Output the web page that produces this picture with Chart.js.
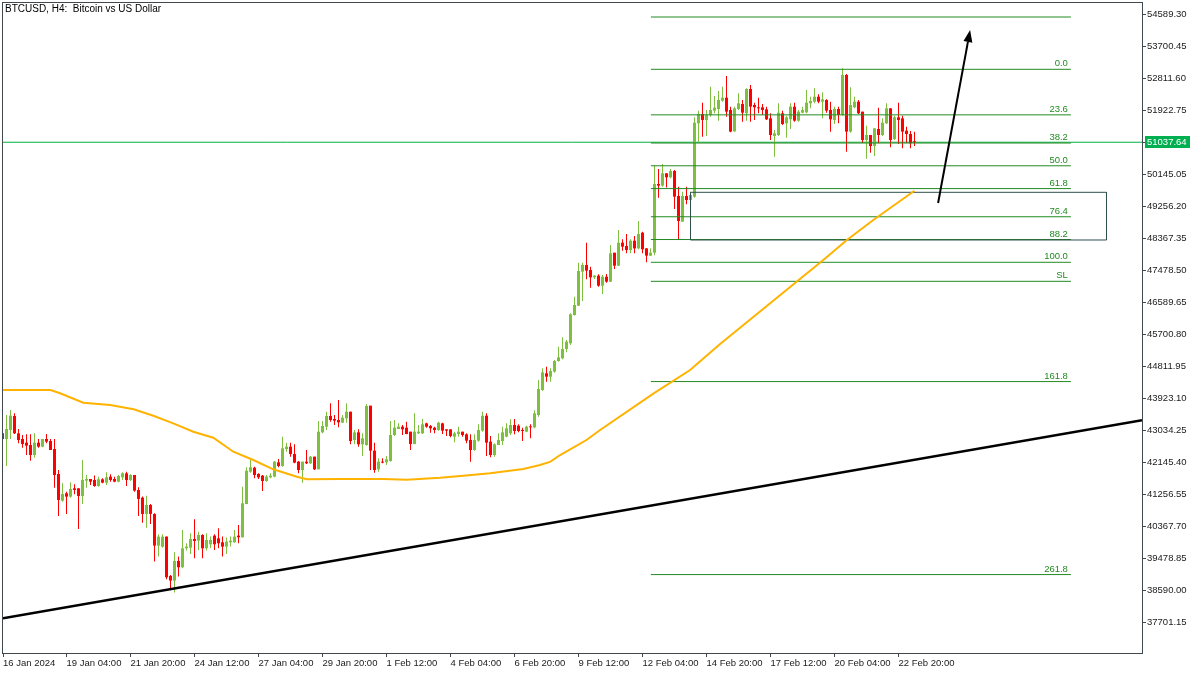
<!DOCTYPE html>
<html>
<head>
<meta charset="utf-8">
<title>BTCUSD, H4</title>
<script src="https://cdn.jsdelivr.net/npm/chart.js@4.4.1/dist/chart.umd.min.js"></script>
<style>
  html, body { margin: 0; padding: 0; background: #fff; }
  #wrap { width: 1200px; height: 675px; }
</style>
</head>
<body>
<div id="wrap"><canvas id="chart" width="1200" height="675"></canvas></div>
<script>
// ---- H4 candles, 16 Jan 2024 12:00 onwards (one value per bar) ----
const opens = [
  42957, 42800, 43049, 43438, 42957, 42800, 42698, 42633, 42356, 42698,
  42587, 42800, 42744, 42522, 41829, 41089, 41292, 41200, 41431, 41431,
  41218, 41644, 41690, 41662, 41495, 41681, 41588, 41755, 41690, 41616,
  41736, 41847, 41662, 41801, 41385, 41172, 40719, 40968, 40719, 39840,
  39812, 40090, 38998, 38869, 39415, 39239, 39766, 39784, 40025, 39979,
  40136, 39766, 39877, 40117, 40043, 39932, 39812, 39932, 39932, 40117,
  40071, 40996, 41893, 42004, 41829, 41783, 41634, 41736, 41755, 42152,
  42050, 42522, 42587, 42384, 42171, 41939, 42171, 42124, 42310, 41958,
  42985, 43142, 43438, 43355, 43327, 43253, 43373, 43558, 42772, 42985,
  42652, 42633, 43725, 42476, 41958, 42171, 42152, 42189, 42911, 43077,
  43142, 43114, 43003, 42661, 42957, 42957, 43234, 43161, 43114, 43049,
  43234, 43068, 43068, 42864, 42938, 43003, 42929, 42772, 42494, 42754,
  43031, 43447, 42726, 42356, 42633, 42744, 42864, 42957, 43188, 43170,
  43049, 43003, 43142, 43123, 43466, 44160, 44623, 44530, 44669, 44965,
  45039, 45298, 45455, 46242, 46501, 47445, 47630, 47491, 47287, 47334,
  47056, 47306, 47167, 47972, 47611, 48250, 48157, 48046, 48305, 48092,
  48527, 48092, 47889, 47972, 49879, 49833, 50175, 50064, 50239, 49546,
  48833, 49546, 49435, 49527, 51563, 51822, 51656, 51794, 51915, 51961,
  52192, 52275, 51933, 51341, 51961, 52100, 51841, 52516, 52072, 52007,
  52007, 51952, 51702, 51211, 51239, 51841, 51563, 51674, 52026, 51637,
  51859, 51868, 52118, 52164, 52303, 52164, 52211, 51933, 51656, 51961,
  51794, 52905, 51332, 52007, 52164, 51887, 51100, 51239, 50934, 51406,
  51239, 51563, 51979, 51128, 51730, 51702, 51359, 51267, 51054
];
const highs = [
  42975, 43466, 43605, 43512, 43077, 42911, 42929, 42929, 42957, 42800,
  42800, 42938, 42800, 42800, 41939, 41569, 41338, 41597, 41542, 41431,
  42217, 41801, 41690, 41783, 41755, 41708, 41875, 41820, 41755, 41801,
  41875, 41893, 41820, 41801, 41458, 41200, 41227, 40996, 40737, 40154,
  40154, 40090, 39026, 39655, 39535, 40275, 39905, 40182, 40571, 40228,
  40154, 40182, 40090, 40154, 40321, 40090, 40062, 40090, 40275, 40413,
  41477, 42014, 42217, 42032, 41847, 41801, 41801, 41847, 42189, 42245,
  42864, 42698, 42698, 42652, 42189, 42171, 42494, 42328, 42310, 43299,
  43299, 43558, 43790, 43466, 43882, 43466, 43790, 43558, 43049, 43068,
  42957, 43771, 43725, 42698, 42263, 42263, 42328, 43299, 43327, 43234,
  43188, 43281, 43003, 43512, 43188, 43355, 43253, 43188, 43142, 43281,
  43253, 43068, 43068, 43003, 43142, 43003, 42957, 42929, 42929, 43207,
  43558, 43512, 42883, 42680, 42957, 43142, 43234, 43345, 43355, 43207,
  43114, 43170, 43207, 43600, 44438, 44761, 44808, 44761, 44993, 45363,
  45622, 45548, 46288, 46751, 47695, 47695, 48250, 47584, 47352, 47371,
  47352, 47380, 48185, 47972, 48601, 48342, 48490, 48342, 48435, 48851,
  48555, 48092, 48092, 50406, 50295, 50434, 50175, 50295, 50267, 49805,
  49666, 49805, 49666, 51730, 51915, 52137, 51933, 52581, 52321, 52460,
  52581, 52877, 52026, 52026, 52396, 52211, 52534, 52627, 52137, 52275,
  52100, 52026, 51841, 51378, 52118, 51915, 51776, 52118, 52137, 51933,
  52026, 52488, 52303, 52534, 52368, 52423, 52229, 52164, 52026, 52026,
  53090, 52933, 52562, 52303, 52211, 51887, 51498, 51239, 51424, 51998,
  51702, 52118, 51979, 51776, 52137, 51776, 51470, 51350, 51332
];
const lows = [
  42790, 42050, 42800, 42938, 42680, 42559, 42356, 42198, 42282, 42559,
  42568, 42680, 42494, 41449, 40663, 41061, 40719, 41172, 41264, 40302,
  40996, 41449, 41523, 41477, 41477, 41569, 41523, 41616, 41597, 41597,
  41662, 41495, 41634, 41338, 40663, 40478, 40339, 40441, 39396, 39535,
  39784, 38906, 38637, 38536, 38980, 39211, 39701, 39609, 39488, 39720,
  39488, 39701, 39766, 39720, 39766, 39535, 39609, 39812, 39923, 39905,
  40062, 40987, 41866, 41708, 41690, 41357, 41616, 41708, 41736, 42014,
  42032, 42448, 42310, 42124, 41847, 41588, 42106, 42106, 41939, 41958,
  42957, 43049, 43281, 43188, 43123, 43253, 43253, 42652, 42652, 42587,
  42328, 42615, 41939, 41866, 41893, 42124, 42078, 42171, 42883, 43077,
  42911, 42929, 42494, 42652, 42938, 42938, 43114, 42976, 42957, 43031,
  42938, 42883, 42846, 42707, 42864, 42864, 42680, 42171, 42476, 42726,
  43003, 42328, 42291, 42310, 42633, 42633, 42846, 42911, 42929, 42985,
  42744, 42985, 42818, 43096, 43420, 44132, 44391, 44391, 44641, 44946,
  45011, 45206, 45409, 46230, 46492, 46631, 47232, 47001, 47241, 47028,
  46825, 47139, 47158, 47519, 47602, 48028, 47954, 47954, 47954, 48065,
  47954, 47705, 47880, 47900, 49499, 49805, 49778, 50036, 49185, 48324,
  48833, 49314, 49407, 49499, 51054, 51193, 51211, 51748, 51841, 51637,
  52164, 51748, 51313, 51332, 51933, 51609, 51637, 51609, 51656, 51841,
  51794, 51656, 51100, 50638, 51211, 51517, 51165, 51406, 51609, 51609,
  51841, 51841, 51979, 52118, 52118, 51702, 51859, 51332, 51545, 51563,
  51776, 50776, 51304, 51979, 51822, 51026, 50582, 50749, 50656, 51008,
  51211, 51545, 50897, 51100, 50989, 50869, 51026, 50869, 50934
];
const closes = [
  42800, 43077, 43447, 42957, 42772, 42661, 42615, 42356, 42698, 42587,
  42800, 42726, 42494, 41801, 41107, 41274, 41200, 41412, 41385, 41218,
  41662, 41690, 41616, 41495, 41681, 41588, 41736, 41662, 41616, 41773,
  41847, 41662, 41801, 41366, 41135, 40719, 40968, 40719, 39840, 40090,
  40090, 38961, 38869, 39415, 39239, 39766, 39812, 40025, 39969, 40136,
  39766, 39997, 39997, 39877, 39905, 39812, 39951, 39979, 40090, 40071,
  41015, 41921, 42014, 41801, 41736, 41634, 41755, 41783, 42171, 42050,
  42541, 42587, 42384, 42143, 41939, 42171, 42124, 42310, 41958, 43003,
  43161, 43438, 43327, 43308, 43262, 43392, 43558, 42744, 42985, 42652,
  42818, 43716, 42476, 41939, 42171, 42143, 42235, 42911, 43114, 43142,
  43068, 42938, 42661, 43003, 43003, 43207, 43142, 43096, 43049, 43253,
  43031, 43031, 42883, 42957, 43003, 42911, 42754, 42494, 42772, 43049,
  43447, 42698, 42356, 42652, 42772, 42985, 43096, 43188, 43022, 43022,
  43022, 43142, 43123, 43512, 44188, 44650, 44530, 44687, 44965, 45067,
  45298, 45502, 46260, 46520, 47463, 47630, 47473, 47287, 47334, 47056,
  47306, 47167, 47954, 47611, 48250, 48139, 48046, 48305, 48092, 48490,
  48065, 47889, 47972, 49879, 49833, 50175, 50064, 50239, 49527, 48852,
  49546, 49435, 49573, 51581, 51822, 51656, 51794, 51933, 51998, 52211,
  52275, 51887, 51332, 51979, 52118, 51859, 52516, 52026, 52007, 51979,
  51933, 51674, 51239, 51285, 51859, 51545, 51730, 52026, 51637, 51887,
  51933, 52137, 52183, 52303, 52164, 52229, 51915, 51674, 51961, 51794,
  52905, 51332, 52072, 52164, 51841, 51100, 51239, 50934, 51424, 51239,
  51581, 51979, 51100, 51730, 51656, 51332, 51267, 51008, 51037.64
];

// ---- time axis: a label every 16 bars ----
const timeTickBars = [0, 16, 32, 48, 64, 80, 96, 112, 128, 144, 160, 176, 192, 208, 224];
const timeTickLabels = ["16 Jan 2024", "19 Jan 04:00", "21 Jan 20:00", "24 Jan 12:00", "27 Jan 04:00",
  "29 Jan 20:00", "1 Feb 12:00", "4 Feb 04:00", "6 Feb 20:00", "9 Feb 12:00",
  "12 Feb 04:00", "14 Feb 20:00", "17 Feb 12:00", "20 Feb 04:00", "22 Feb 20:00"];

// ---- price axis ticks ----
const priceTicks = [54589.30, 53700.45, 52811.60, 51922.75, 51033.90, 50145.05, 49256.20, 48367.35,
  47478.50, 46589.65, 45700.80, 44811.95, 43923.10, 43034.25, 42145.40, 41256.55,
  40367.70, 39478.85, 38590.00, 37701.15];

// ---- orange moving average ----
const maBars = [0, 12, 14.4, 20.2, 26.9, 32.8, 37.7, 42.7, 47.7, 52.7, 57.7, 62.7, 67.7, 73.6, 76.1,
  84.4, 95.2, 101, 109.4, 115.2, 121.9, 130.2, 134.4, 137, 139.4, 146, 149.4, 162.8, 171.9,
  179.4, 205.2, 211.1, 217.7, 228];
const maValues = [44160, 44160, 44068, 43807, 43744, 43624, 43446, 43235, 43002, 42836, 42447, 42217,
  41958, 41753, 41681, 41689, 41689, 41670, 41725, 41781, 41847, 41967, 42078, 42170, 42355,
  42772, 43049, 44068, 44715, 45436, 47769, 48324, 48879, 49692];

// ---- fibonacci levels ----
const fibNames = ["", "0.0", "23.6", "38.2", "50.0", "61.8", "76.4", "88.2", "100.0", "SL", "161.8", "261.8"];
const fibValues = [54514, 53062.5, 51798, 51016, 50384, 49751, 48969, 48337, 47705, 47177, 44394, 39036];
const fibBars = [162.1, 267.1];

// ---- trend line, zone box, arrow ----
const trendBars = [0.125, 284.875];
const trendValues = [37822, 43319];
const zoneBars = [172, 276];
const zoneValues = [49648, 48324];
const arrowBars = [233.9, 241.9];
const arrowValues = [49351, 54153];

const X_MIN = 0.125, X_MAX = 284.875;
const Y_MIN = 36859, Y_MAX = 54903;

const UP = '#7fbf3f', DOWN = '#ff0000';
const FIB = '#228b22';
const FRAME = '#404850';
const FONT = '"Liberation Sans", Arial, sans-serif';

const bars = opens.map((o, i) => i);
const candleColors = opens.map((o, i) => closes[i] >= o ? UP : DOWN);
const lastPrice = closes[closes.length - 1];

Chart.defaults.font.family = FONT;

const fibSets = fibValues.map((v, k) => ({
  type: 'line',
  label: 'fib ' + fibNames[k],
  data: fibBars.map(b => ({ x: b, y: v })),
  borderColor: FIB,
  borderWidth: 1,
  pointRadius: 0,
  order: 2
}));

// labels, arrow, frame, title and bid box
const mtOverlay = {
  id: 'mtOverlay',
  afterDatasetsDraw(chart) {
    const { ctx, chartArea: a, scales: { x, y } } = chart;
    ctx.save();
    ctx.beginPath();
    ctx.rect(a.left, a.top, a.right - a.left, a.bottom - a.top);
    ctx.clip();

    ctx.font = '9.5px ' + FONT;
    ctx.fillStyle = FIB;
    ctx.textAlign = 'right';
    ctx.textBaseline = 'alphabetic';
    const fx = x.getPixelForValue(fibBars[1]) - 3;
    fibNames.forEach((n, k) => {
      if (n) ctx.fillText(n, fx, y.getPixelForValue(fibValues[k]) - 3);
    });

    const x0 = x.getPixelForValue(arrowBars[0]), y0 = y.getPixelForValue(arrowValues[0]);
    const x1 = x.getPixelForValue(arrowBars[1]), y1 = y.getPixelForValue(arrowValues[1]);
    const ang = Math.atan2(y1 - y0, x1 - x0);
    const head = 12, half = 4.5;
    const bx = x1 - head * Math.cos(ang), by = y1 - head * Math.sin(ang);
    ctx.strokeStyle = '#000';
    ctx.lineWidth = 2;
    ctx.beginPath();
    ctx.moveTo(x0, y0);
    ctx.lineTo(bx, by);
    ctx.stroke();
    ctx.fillStyle = '#000';
    ctx.beginPath();
    ctx.moveTo(x1, y1);
    ctx.lineTo(bx + half * Math.sin(ang), by - half * Math.cos(ang));
    ctx.lineTo(bx - half * Math.sin(ang), by + half * Math.cos(ang));
    ctx.closePath();
    ctx.fill();
    ctx.restore();
  },
  afterDraw(chart) {
    const { ctx, chartArea: a, scales: { y } } = chart;
    ctx.save();
    ctx.strokeStyle = FRAME;
    ctx.lineWidth = 1;
    ctx.strokeRect(a.left - 0.5, a.top - 0.5, a.right - a.left + 1, a.bottom - a.top + 1);

    ctx.fillStyle = '#000';
    ctx.font = '10px ' + FONT;
    ctx.textAlign = 'left';
    ctx.textBaseline = 'middle';
    ctx.fillText('BTCUSD, H4:  Bitcoin vs US Dollar', 5, 9);

    ctx.font = '9.5px ' + FONT;
    const py = Math.round(y.getPixelForValue(lastPrice));
    ctx.fillStyle = '#00b050';
    ctx.fillRect(a.right + 3, py - 6, 45, 12);
    ctx.fillStyle = '#fff';
    ctx.fillText(lastPrice.toFixed(2), a.right + 5, py);
    ctx.restore();
  }
};

new Chart(document.getElementById('chart'), {
  type: 'bar',
  data: {
    datasets: [
      {
        type: 'line', label: 'trend',
        data: trendBars.map((b, k) => ({ x: b, y: trendValues[k] })),
        borderColor: '#000', borderWidth: 2.5, pointRadius: 0, order: 0
      },
      {
        type: 'line', label: 'MA',
        data: maBars.map((b, k) => ({ x: b, y: maValues[k] })),
        borderColor: '#ffb300', borderWidth: 2, pointRadius: 0, tension: 0, order: 1
      },
      {
        type: 'line', label: 'zone',
        data: [
          { x: zoneBars[0], y: zoneValues[0] }, { x: zoneBars[1], y: zoneValues[0] },
          { x: zoneBars[1], y: zoneValues[1] }, { x: zoneBars[0], y: zoneValues[1] },
          { x: zoneBars[0], y: zoneValues[0] }
        ],
        borderColor: '#2f4f4f', borderWidth: 1, pointRadius: 0, order: 2
      },
      ...fibSets,
      {
        type: 'bar', label: 'bodies',
        data: bars.map(i => ({ x: i, y: [opens[i], closes[i]] })),
        backgroundColor: candleColors, barThickness: 3, minBarLength: 1,
        grouped: false, inflateAmount: 0, borderWidth: 0, order: 3
      },
      {
        type: 'bar', label: 'wicks',
        data: bars.map(i => ({ x: i, y: [lows[i], highs[i]] })),
        backgroundColor: candleColors, barThickness: 1,
        grouped: false, inflateAmount: 0, borderWidth: 0, order: 4
      },
      {
        type: 'line', label: 'bid',
        data: [{ x: X_MIN, y: lastPrice }, { x: X_MAX, y: lastPrice }],
        borderColor: '#00b040', borderWidth: 1, pointRadius: 0, order: 5
      }
    ]
  },
  options: {
    responsive: false,
    animation: false,
    events: [],
    layout: { padding: { left: 3, top: 3, right: 0, bottom: 0 } },
    plugins: {
      legend: { display: false },
      tooltip: { enabled: false },
      title: { display: false }
    },
    scales: {
      x: {
        type: 'linear', min: X_MIN, max: X_MAX, offset: false,
        grid: { drawOnChartArea: false, drawTicks: true, tickLength: 4, color: FRAME, offset: false },
        border: { display: false },
        afterBuildTicks: s => { s.ticks = timeTickBars.map(b => ({ value: Math.max(b, X_MIN) })); },
        afterFit: s => { s.height = 22; s.paddingLeft = 0; s.paddingRight = 0; },
        ticks: {
          autoSkip: false, maxRotation: 0, minRotation: 0, align: 'start', padding: 1,
          color: '#1a1a1a', font: { size: 9.5 },
          callback: (v, i) => timeTickLabels[i]
        }
      },
      y: {
        type: 'linear', position: 'right', min: Y_MIN, max: Y_MAX, beginAtZero: false,
        grid: { drawOnChartArea: false, drawTicks: true, tickLength: 4, color: FRAME },
        border: { display: false },
        afterBuildTicks: s => { s.ticks = priceTicks.map(v => ({ value: v })); },
        afterFit: s => { s.width = 58; s.paddingTop = 0; s.paddingBottom = 0; },
        ticks: {
          padding: 1, color: '#1a1a1a', font: { size: 9.5 },
          callback: v => v.toFixed(2)
        }
      }
    }
  },
  plugins: [mtOverlay]
});
</script>
</body>
</html>
